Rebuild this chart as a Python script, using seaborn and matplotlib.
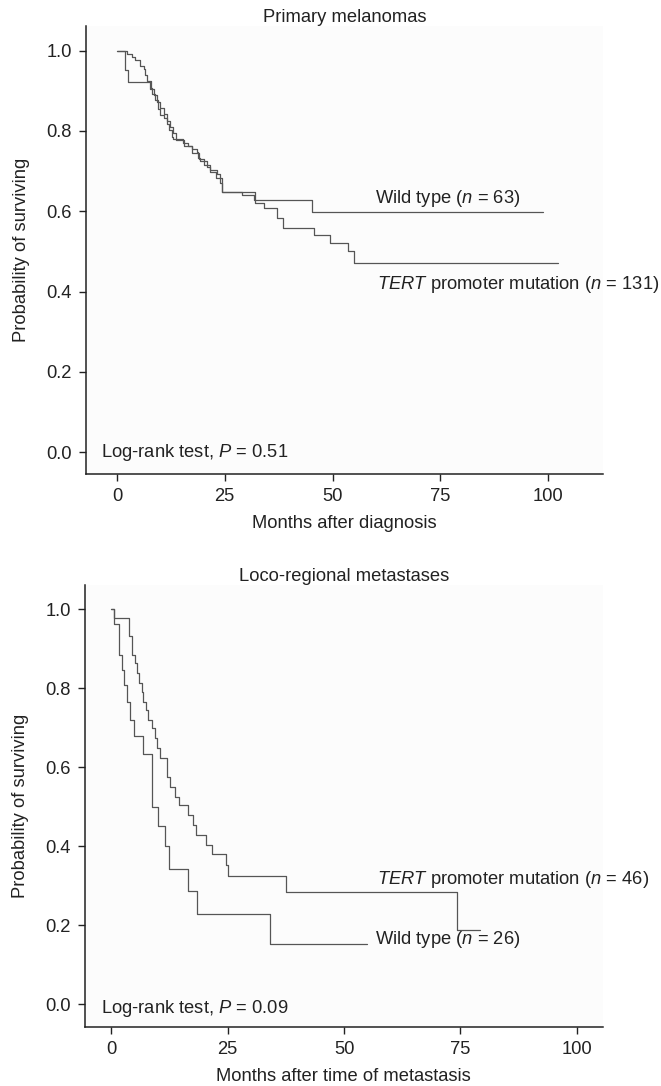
import numpy as np
import pandas as pd
import matplotlib as mpl
mpl.use('Agg')
import matplotlib.pyplot as plt
import seaborn as sns

# Primary melanomas (top panel): step points
pm_wt_months = [0, 1.9, 2.5, 7.7, 8.5, 9.4, 10.0, 10.8, 11.6, 12.4, 13.0, 13.8, 15.5, 17.4,
                19.0, 20.2, 21.5, 23.0, 24.3, 32.1, 45.2, 98.8]
pm_wt_surv = [1.0, 0.952, 0.921, 0.905, 0.889, 0.873, 0.857, 0.841, 0.825, 0.810, 0.794, 0.778,
              0.762, 0.746, 0.730, 0.714, 0.698, 0.682, 0.649, 0.628, 0.598, 0.598]
pm_tert_months = [0, 2.3, 3.5, 4.2, 5.4, 6.2, 6.6, 7.0, 7.9, 8.1, 8.9, 9.6, 10.0, 10.8, 11.6,
                  12.0, 12.7, 13.1, 15.4, 16.4, 17.4, 18.5, 18.9, 19.3, 20.9, 21.6, 23.2, 23.8,
                  24.3, 29.0, 31.7, 32.1, 34.0, 37.1, 38.6, 45.6, 49.4, 53.7, 55.0, 102.4]
pm_tert_surv = [1.0, 0.992, 0.985, 0.977, 0.962, 0.954, 0.939, 0.924, 0.908, 0.893, 0.878, 0.855,
                0.840, 0.832, 0.817, 0.802, 0.786, 0.779, 0.771, 0.763, 0.756, 0.748, 0.733, 0.725,
                0.710, 0.702, 0.694, 0.671, 0.649, 0.641, 0.628, 0.620, 0.607, 0.583, 0.558, 0.541,
                0.522, 0.500, 0.472, 0.472]

# Loco-regional metastases (bottom panel)
lr_wt_months = [0, 0.64, 1.78, 2.43, 2.86, 3.5, 4.08, 5.0, 6.9, 8.8, 10.0, 11.5, 12.4, 16.5,
                18.5, 34.1, 54.9]
lr_wt_surv = [1.0, 0.962, 0.885, 0.846, 0.808, 0.765, 0.720, 0.680, 0.633, 0.500, 0.451, 0.401,
              0.343, 0.287, 0.229, 0.152, 0.152]
lr_tert_months = [0, 0.7, 3.9, 4.58, 5.15, 5.5, 6.08, 6.58, 6.94, 7.44, 8.0, 8.87, 9.44, 9.94,
                  10.4, 12.1, 12.7, 13.7, 14.5, 16.5, 17.6, 18.3, 20.4, 21.6, 24.7, 25.2, 37.6,
                  74.3, 79.2]
lr_tert_surv = [1.0, 0.978, 0.932, 0.884, 0.863, 0.838, 0.813, 0.791, 0.766, 0.745, 0.720, 0.699,
                0.673, 0.648, 0.623, 0.576, 0.551, 0.526, 0.505, 0.479, 0.454, 0.429, 0.403, 0.380,
                0.353, 0.325, 0.284, 0.188, 0.188]

x_ticks = [0, 25, 50, 75, 100]
y_ticks = [0.0, 0.2, 0.4, 0.6, 0.8, 1.0]

sns.set_theme(style='ticks')
plt.rcParams['font.family'] = ['Liberation Sans', 'DejaVu Sans']
plt.rcParams['mathtext.fontset'] = 'custom'
plt.rcParams['mathtext.rm'] = 'Liberation Sans'
plt.rcParams['mathtext.it'] = 'Liberation Sans:italic'
plt.rcParams['text.color'] = '#222222'
plt.rcParams['axes.labelcolor'] = '#222222'
plt.rcParams['xtick.color'] = '#222222'
plt.rcParams['ytick.color'] = '#222222'

FS = 13.2
LINE = '#555555'


def km_frame(wt_m, wt_s, tert_m, tert_s):
    df1 = pd.DataFrame({'month': wt_m, 'surv': wt_s, 'group': 'Wild type'})
    df2 = pd.DataFrame({'month': tert_m, 'surv': tert_s, 'group': 'TERT'})
    return pd.concat([df1, df2], ignore_index=True)


def style_axes(ax, xlim, ylim, title, xlabel):
    ax.set_facecolor('#fcfcfc')
    ax.set_xlim(*xlim)
    ax.set_ylim(*ylim)
    ax.set_xticks(x_ticks)
    ax.set_yticks(y_ticks)
    ax.set_yticklabels(['%.1f' % v for v in y_ticks])
    ax.tick_params(labelsize=FS, length=5, width=1.0, pad=5, direction='out')
    for side in ['top', 'right']:
        ax.spines[side].set_visible(False)
    for side in ['left', 'bottom']:
        ax.spines[side].set_linewidth(1.1)
        ax.spines[side].set_color('#222222')
    ax.set_title(title, fontsize=FS, pad=2)
    ax.set_xlabel(xlabel, fontsize=FS, labelpad=7)
    ax.set_ylabel('Probability of surviving', fontsize=FS, labelpad=12)


fig = plt.figure(figsize=(6.61, 10.86), dpi=100)

# top panel
ax1 = fig.add_axes([0.130, 0.5635, 0.782, 0.4125])
d1 = km_frame(pm_wt_months, pm_wt_surv, pm_tert_months, pm_tert_surv)
sns.lineplot(data=d1, x='month', y='surv', hue='group', palette=[LINE, LINE],
             drawstyle='steps-post', estimator=None, legend=False, linewidth=0.9, ax=ax1)
style_axes(ax1, (-7.2, 112.7), (-0.054, 1.061), 'Primary melanomas', 'Months after diagnosis')
ax1.text(59.9, 0.633, r'Wild type ($n$ = 63)', fontsize=FS, va='center', ha='left')
ax1.text(60.3, 0.417, r'$TERT$ promoter mutation ($n$ = 131)', fontsize=FS, va='center', ha='left')
ax1.text(-3.6, 0.0, r'Log-rank test, $P$ = 0.51', fontsize=FS, va='center', ha='left')

# bottom panel
ax2 = fig.add_axes([0.1286, 0.054, 0.783, 0.4073])
d2 = km_frame(lr_wt_months, lr_wt_surv, lr_tert_months, lr_tert_surv)
sns.lineplot(data=d2, x='month', y='surv', hue='group', palette=[LINE, LINE],
             drawstyle='steps-post', estimator=None, legend=False, linewidth=0.9, ax=ax2)
style_axes(ax2, (-5.6, 105.5), (-0.058, 1.061), 'Loco-regional metastases',
           'Months after time of metastasis')
ax2.text(57.1, 0.316, r'$TERT$ promoter mutation ($n$ = 46)', fontsize=FS, va='center', ha='left')
ax2.text(56.7, 0.163, r'Wild type ($n$ = 26)', fontsize=FS, va='center', ha='left')
ax2.text(-2.15, -0.01, r'Log-rank test, $P$ = 0.09', fontsize=FS, va='center', ha='left')

fig.savefig('out.png', dpi=100)
